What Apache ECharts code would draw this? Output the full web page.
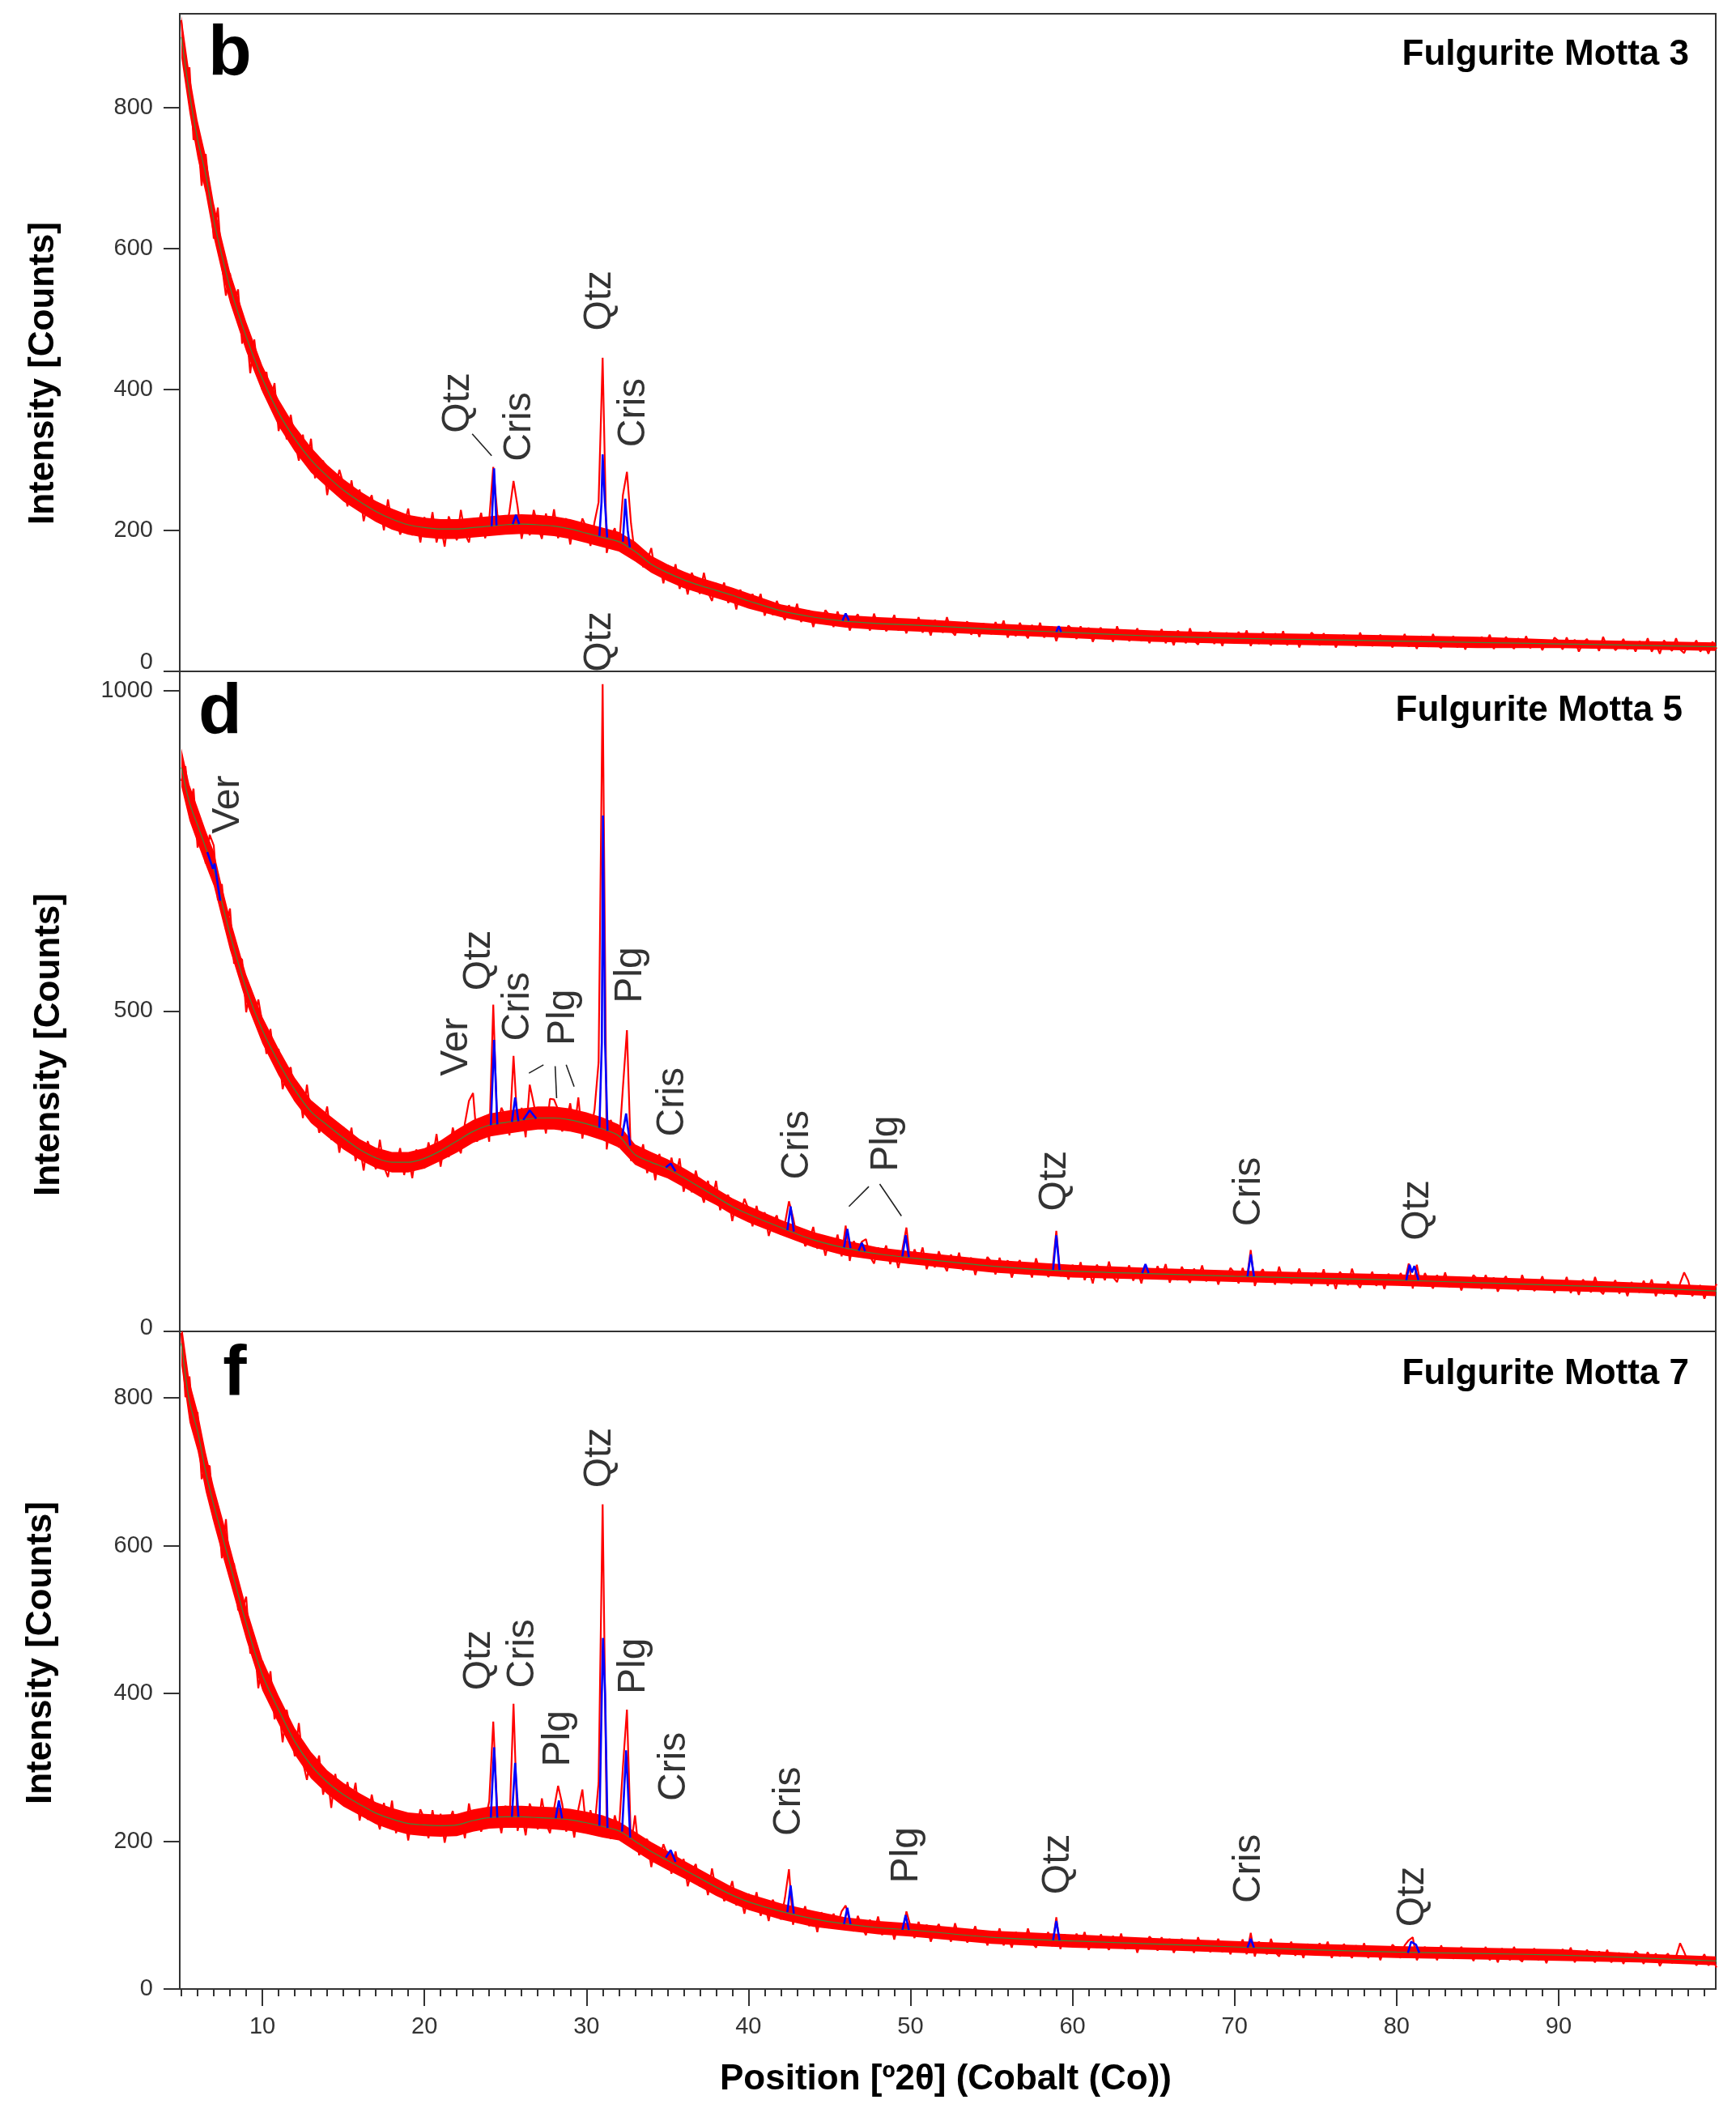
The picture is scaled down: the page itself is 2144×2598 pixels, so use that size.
<!DOCTYPE html>
<html>
<head>
<meta charset="utf-8">
<title>Fulgurite Motta XRD</title>
<script src="https://cdn.jsdelivr.net/npm/echarts@6/dist/echarts.min.js"></script>
<style>
  html, body { margin: 0; padding: 0; background: #fff; }
  #chart { width: 2144px; height: 2598px; }
</style>
</head>
<body>
<div id="chart"></div>
<script>
// measured counts, 5° start, 0.25° step
var obsStart = 5;
var obsStep = 0.25;

// Fulgurite Motta 3 (b)
var obsM3 = [
  924, 843, 857, 754, 765, 689, 734, 677, 614, 658, 576, 533, 565, 520, 542, 465, 490, 423, 471, 420,
  399, 425, 383, 409, 341, 367, 329, 364, 327, 299, 336, 294, 330, 274, 293, 299, 250, 284, 257, 286,
  266, 234, 271, 235, 258, 213, 238, 250, 214, 234, 200, 244, 209, 226, 194, 207, 231, 193, 214, 183,
  219, 192, 226, 183, 208, 177, 220, 205, 186, 229, 195, 183, 217, 201, 225, 189, 215, 290, 223, 201,
  195, 227, 270, 234, 188, 217, 193, 229, 206, 188, 224, 195, 230, 189, 208, 217, 180, 211, 192, 217,
  204, 178, 212, 240, 445, 168, 192, 203, 173, 250, 283, 210, 164, 177, 148, 156, 175, 140, 155, 125,
  151, 129, 152, 117, 135, 109, 140, 126, 110, 140, 112, 100, 125, 110, 126, 97, 115, 88, 116, 97,
  92, 110, 93, 110, 79, 95, 80, 100, 85, 73, 94, 75, 96, 70, 82, 86, 63, 83, 70, 87,
  79, 63, 85, 67, 82, 58, 73, 81, 63, 74, 58, 82, 64, 75, 57, 65, 80, 58, 70, 54,
  74, 59, 77, 55, 67, 51, 73, 65, 55, 77, 58, 51, 69, 60, 71, 52, 66, 49, 68, 57,
  53, 70, 56, 72, 48, 62, 50, 69, 56, 47, 66, 51, 69, 48, 58, 63, 43, 61, 51, 65,
  59, 46, 64, 49, 62, 42, 55, 62, 46, 57, 42, 64, 48, 57, 43, 49, 61, 43, 54, 40,
  57, 45, 60, 40, 52, 37, 58, 50, 40, 61, 44, 38, 54, 46, 57, 39, 52, 36, 55, 44,
  41, 56, 44, 58, 36, 50, 39, 56, 45, 37, 54, 41, 57, 37, 47, 52, 34, 50, 41, 55,
  49, 37, 54, 40, 51, 34, 46, 52, 39, 48, 35, 55, 40, 48, 36, 42, 52, 37, 46, 34,
  49, 38, 53, 35, 46, 32, 50, 44, 35, 53, 38, 33, 47, 39, 50, 34, 45, 31, 48, 38,
  36, 49, 39, 52, 32, 44, 34, 49, 39, 32, 47, 35, 50, 33, 41, 45, 30, 44, 36, 48,
  43, 31, 48, 34, 45, 28, 40, 46, 33, 42, 29, 49, 34, 42, 30, 36, 46, 31, 40, 28,
  43, 32, 47, 28, 39, 25, 44, 37, 29, 47, 31, 26, 40, 33, 44, 28, 39, 25, 42, 32
];

// Fulgurite Motta 5 (d)
var obsM5 = [
  859, 882, 816, 847, 755, 786, 730, 775, 758, 673, 698, 627, 660, 574, 586, 580, 498, 535, 488, 518,
  481, 433, 472, 419, 441, 378, 404, 412, 360, 381, 333, 385, 335, 352, 310, 323, 351, 299, 322, 279,
  319, 285, 318, 266, 291, 251, 297, 278, 253, 299, 257, 241, 278, 258, 286, 244, 275, 239, 284, 261,
  255, 295, 269, 308, 257, 296, 272, 318, 294, 278, 325, 360, 372, 296, 323, 336, 296, 510, 315, 349,
  336, 306, 430, 318, 349, 303, 385, 355, 318, 344, 309, 363, 362, 346, 312, 327, 356, 313, 365, 301,
  341, 310, 346, 420, 1010, 284, 330, 311, 287, 380, 470, 266, 290, 267, 292, 247, 275, 236, 277, 249,
  241, 271, 241, 270, 218, 245, 217, 251, 223, 201, 235, 203, 235, 189, 206, 213, 172, 203, 181, 207,
  191, 164, 196, 166, 186, 149, 171, 181, 151, 168, 203, 178, 146, 160, 133, 142, 163, 129, 146, 118,
  147, 126, 151, 117, 165, 110, 141, 128, 140, 144, 117, 106, 131, 117, 134, 105, 125, 99, 128, 162,
  106, 128, 110, 131, 97, 117, 100, 125, 107, 94, 120, 99, 123, 95, 108, 115, 88, 111, 98, 116,
  108, 89, 115, 94, 111, 84, 102, 111, 90, 104, 84, 114, 93, 104, 85, 94, 157, 86, 100, 81,
  104, 87, 108, 80, 97, 75, 104, 94, 80, 109, 85, 77, 99, 87, 103, 79, 96, 75, 101, 86,
  82, 102, 86, 105, 76, 94, 80, 101, 87, 76, 98, 81, 103, 78, 90, 95, 73, 94, 82, 99,
  91, 75, 99, 80, 127, 71, 88, 97, 77, 91, 73, 101, 80, 91, 74, 82, 98, 76, 89, 71,
  92, 76, 97, 71, 87, 66, 93, 84, 72, 98, 77, 68, 89, 78, 93, 71, 87, 66, 90, 76,
  73, 91, 77, 106, 67, 104, 71, 91, 78, 67, 88, 72, 92, 69, 79, 85, 64, 83, 73, 88,
  81, 66, 88, 71, 84, 62, 77, 86, 68, 79, 63, 88, 70, 81, 63, 71, 86, 65, 77, 60,
  80, 66, 85, 60, 75, 57, 81, 72, 61, 85, 65, 58, 76, 67, 80, 59, 74, 55, 77, 64,
  61, 79, 64, 81, 55, 71, 58, 78, 65, 54, 75, 92, 79, 55, 66, 72, 51, 69, 59, 74
];

// Fulgurite Motta 7 (f)
var obsM7 = [
  888, 801, 829, 760, 781, 690, 707, 708, 635, 650, 583, 636, 565, 576, 513, 512, 531, 454, 470, 407,
  444, 398, 430, 365, 386, 334, 378, 349, 315, 360, 307, 283, 319, 291, 316, 263, 292, 245, 291, 259,
  250, 280, 251, 279, 228, 256, 229, 263, 236, 216, 252, 221, 255, 211, 231, 239, 201, 234, 215, 243,
  230, 204, 242, 212, 237, 198, 225, 241, 209, 232, 204, 251, 222, 241, 213, 228, 254, 362, 239, 211,
  248, 222, 386, 214, 239, 208, 251, 235, 216, 258, 224, 211, 244, 275, 251, 213, 238, 205, 243, 270,
  213, 242, 218, 279, 656, 226, 203, 235, 212, 300, 378, 195, 235, 181, 197, 203, 165, 193, 173, 196,
  181, 156, 186, 157, 176, 139, 160, 169, 139, 155, 127, 163, 133, 145, 119, 127, 146, 113, 128, 102,
  129, 108, 131, 99, 116, 92, 121, 109, 94, 123, 162, 87, 109, 96, 112, 85, 102, 77, 104, 87,
  83, 102, 87, 105, 113, 92, 78, 99, 84, 73, 94, 77, 98, 73, 85, 90, 67, 88, 75, 105,
  85, 69, 91, 73, 87, 64, 79, 88, 69, 81, 64, 89, 70, 81, 63, 71, 85, 64, 75, 59,
  78, 64, 82, 59, 72, 56, 77, 70, 60, 82, 63, 56, 74, 65, 77, 58, 97, 54, 74, 63,
  58, 75, 62, 77, 53, 68, 56, 74, 62, 53, 72, 56, 75, 54, 64, 69, 49, 67, 57, 71,
  65, 52, 70, 55, 68, 49, 61, 68, 53, 64, 49, 70, 55, 64, 50, 56, 68, 50, 61, 47,
  64, 51, 67, 47, 76, 44, 64, 57, 47, 68, 50, 44, 60, 52, 64, 45, 58, 42, 61, 50,
  47, 62, 49, 64, 42, 56, 44, 61, 50, 42, 59, 45, 62, 42, 52, 57, 39, 55, 46, 60,
  54, 42, 59, 66, 70, 39, 51, 57, 44, 53, 39, 59, 45, 53, 41, 47, 57, 42, 50, 38,
  54, 42, 57, 39, 50, 36, 55, 48, 39, 57, 42, 37, 51, 44, 55, 39, 49, 35, 52, 42,
  41, 54, 43, 56, 36, 49, 39, 53, 43, 36, 51, 39, 53, 36, 45, 49, 34, 48, 39, 51,
  46, 34, 50, 37, 48, 31, 42, 48, 35, 44, 62, 50, 36, 44, 32, 38, 47, 32, 41, 29
];

// background (green)
var bgPos = [5, 5.5, 6, 6.5, 7, 7.5, 8, 9, 10, 11, 12, 13, 14, 15, 16, 17, 18, 19, 20, 21, 22, 23, 24, 25, 26, 27, 28, 29, 30,
  31, 32, 33, 34, 35, 36, 37, 38, 39, 40, 42, 44, 46, 48, 50, 55, 60, 65, 70, 75, 80, 85, 90, 95, 99.75];
var bgM3 = [900, 820, 755, 705, 640, 590, 545, 475, 415, 367, 330, 300, 277, 257, 241, 227, 216, 208, 204, 202, 202, 204, 206, 208, 209, 208, 206, 202, 196,
  190, 184, 170, 152, 140, 130, 122, 115, 108, 100, 86, 77, 71, 68, 66, 60, 55, 50, 47, 45, 43, 41, 39, 37, 35];
var bgM5 = [880, 825, 790, 755, 722, 670, 620, 535, 470, 420, 377, 343, 322, 302, 284, 271, 264, 264, 270, 282, 297, 312, 322, 326, 330, 333, 333, 330, 324,
  316, 305, 276, 264, 254, 240, 225, 210, 195, 183, 162, 143, 130, 121, 115, 102, 94, 90, 86, 83, 80, 76, 72, 68, 63];
var bgM7 = [874, 795, 755, 700, 655, 615, 575, 495, 425, 378, 335, 303, 280, 263, 250, 238, 230, 224, 222, 221, 222, 228, 232, 233, 233, 232, 231, 229, 225,
  220, 214, 200, 186, 174, 162, 150, 138, 127, 118, 105, 95, 88, 83, 80, 70, 65, 61, 57, 53, 50, 48, 46, 42, 38];

// half thickness of the solid core of the noise band (counts), at bgPos
var bandM3 = [30, 28, 27, 27, 25, 24, 22, 21, 19, 19, 18, 18, 16, 16, 15, 15, 15, 14, 14, 14, 14, 14, 14, 14, 14, 14, 14, 14, 14,
  14, 14, 14, 12, 12, 12, 11, 11, 11, 11, 9, 9, 9, 9, 9, 8, 8, 8, 8, 8, 8, 8, 6, 6, 6];
var bandM5 = [30, 28, 28, 27, 27, 25, 25, 22, 21, 21, 19, 18, 18, 18, 16, 16, 16, 16, 16, 16, 18, 18, 18, 18, 18, 18, 18, 18, 18,
  18, 18, 16, 16, 15, 15, 15, 13, 13, 13, 12, 12, 12, 10, 10, 10, 10, 9, 9, 9, 9, 9, 9, 8, 8];
var bandM7 = [30, 28, 27, 27, 25, 25, 24, 22, 21, 19, 18, 18, 16, 16, 15, 15, 15, 15, 15, 15, 15, 15, 15, 15, 15, 15, 15, 15, 15,
  15, 13, 13, 13, 13, 12, 12, 12, 11, 11, 11, 11, 9, 9, 9, 9, 9, 8, 8, 8, 8, 8, 8, 6, 6];

// calculated peak profiles (blue)
var calcM3 = [
  [[24.15, 206], [24.3, 288], [24.45, 207]],
  [[25.45, 209], [25.65, 222], [25.85, 209]],
  [[30.8, 192], [30.93, 240], [31.0, 308], [31.07, 308], [31.14, 240], [31.28, 190]],
  [[32.25, 184], [32.4, 245], [32.55, 200], [32.68, 176]],
  [[45.8, 72], [46.0, 82], [46.2, 72]],
  [[59.0, 56], [59.15, 64], [59.3, 56]]
];
var calcM5 = [
  [[6.6, 748], [6.95, 722], [7.05, 730], [7.4, 672]],
  [[24.1, 322], [24.3, 455], [24.5, 323]],
  [[25.4, 327], [25.6, 365], [25.8, 328]],
  [[26.1, 330], [26.5, 345], [26.9, 332]],
  [[30.8, 318], [30.95, 450], [31.02, 805], [31.08, 805], [31.15, 450], [31.3, 313]],
  [[32.2, 305], [32.45, 340], [32.7, 290]],
  [[34.9, 256], [35.2, 262], [35.5, 250]],
  [[42.4, 158], [42.6, 195], [42.8, 156]],
  [[45.9, 131], [46.1, 160], [46.3, 130]],
  [[46.8, 126], [47.0, 138], [47.2, 125]],
  [[49.5, 117], [49.7, 150], [49.9, 116]],
  [[58.8, 96], [59.0, 150], [59.2, 96]],
  [[64.3, 91], [64.5, 105], [64.7, 91]],
  [[70.8, 86], [71.0, 120], [71.2, 86]],
  [[80.6, 80], [80.8, 104], [80.95, 92], [81.1, 102], [81.35, 80]]
];
var calcM7 = [
  [[24.1, 232], [24.3, 327], [24.5, 232]],
  [[25.4, 233], [25.6, 306], [25.8, 233]],
  [[28.1, 231], [28.3, 255], [28.5, 231]],
  [[30.8, 221], [30.95, 400], [31.02, 475], [31.08, 475], [31.15, 400], [31.3, 218]],
  [[32.2, 213], [32.45, 323], [32.7, 205]],
  [[34.9, 178], [35.2, 188], [35.5, 172]],
  [[42.4, 104], [42.6, 140], [42.8, 102]],
  [[45.9, 88], [46.1, 110], [46.3, 88]],
  [[49.5, 80], [49.7, 100], [49.9, 80]],
  [[58.8, 66], [59.0, 92], [59.2, 66]],
  [[70.8, 56], [71.0, 68], [71.2, 56]],
  [[80.7, 49], [80.9, 64], [81.2, 60], [81.4, 49]]
];

// phase labels [text, 2θ, counts]
var labM3 = [['Qtz', 22.1, 381], ['Cris', 25.9, 347], ['Qtz', 30.8, 526], ['Cris', 32.9, 367], ['Qtz', 30.8, 42]];
var labM5 = [['Ver', 7.9, 822], ['Ver', 22.0, 444], ['Qtz', 23.4, 579], ['Cris', 25.8, 507], ['Plg', 28.6, 490],
  ['Plg', 32.7, 556], ['Cris', 35.3, 358], ['Cris', 43.0, 291], ['Plg', 48.5, 293], ['Qtz', 58.9, 235],
  ['Cris', 70.9, 218], ['Qtz', 81.3, 189]];
var labM7 = [['Qtz', 23.4, 445], ['Cris', 26.1, 454], ['Plg', 28.3, 339], ['Qtz', 30.8, 719], ['Plg', 32.9, 437],
  ['Cris', 35.4, 301], ['Cris', 42.5, 254], ['Plg', 49.75, 181], ['Qtz', 59.1, 169], ['Cris', 70.9, 163],
  ['Qtz', 81.0, 125]];

// leader lines
var leadM3 = [[[22.95, 337], [24.15, 306]]];
var leadM5 = [
  [[26.45, 403], [27.35, 416]],
  [[28.07, 414], [28.16, 364]],
  [[28.75, 416], [29.24, 382]],
  [[47.43, 226], [46.2, 195]],
  [[48.1, 230], [49.44, 180]]
];
var leadM7 = [];

var sampleNames = ['Fulgurite Motta 3', 'Fulgurite Motta 5', 'Fulgurite Motta 7'];
var panelLetters = ['b', 'd', 'f'];
var yMax = [933, 1030, 890];
var yTicks = [[0, 200, 400, 600, 800], [0, 500, 1000], [0, 200, 400, 600, 800]];
var xMajor = [10, 20, 30, 40, 50, 60, 70, 80, 90];
var xMinor = [];
for (var t = 5; t <= 99; t++) xMinor.push(t);

var obs = [obsM3, obsM5, obsM7];
var bgs = [bgM3, bgM5, bgM7];
var bands = [bandM3, bandM5, bandM7];
var calcs = [calcM3, calcM5, calcM7];
var labs = [labM3, labM5, labM7];
var leads = [leadM3, leadM5, leadM7];

var FONT = '"Liberation Sans", Arial, sans-serif';
var gridTop = [17, 829, 1644];
var gridH = [812, 815, 812];

function toPairs(vals) {
  return vals.map(function (v, i) { return [obsStart + i * obsStep, v]; });
}
// segments -> one polyline with gaps
function joinSegs(segs) {
  var out = [];
  segs.forEach(function (s, k) {
    if (k) out.push([s[0][0], null]);
    out.push.apply(out, s);
  });
  return out;
}
// filled core of the noise band around the background
function bandRenderer(pp) {
  return function (params, api) {
    var up = [], lo = [];
    bgPos.forEach(function (x, k) {
      up.push(api.coord([x, bgs[pp][k] + bands[pp][k]]));
      lo.push(api.coord([x, bgs[pp][k] - bands[pp][k]]));
    });
    return {
      type: 'polygon',
      shape: { points: up.concat(lo.reverse()) },
      style: { fill: '#ff0000' }
    };
  };
}

var myChart = echarts.init(document.getElementById('chart'), null, { renderer: 'canvas' });

var grids = [], xAxes = [], yAxes = [], series = [];
for (var p = 0; p < 3; p++) {
  grids.push({
    left: 222, right: 25, top: gridTop[p], height: gridH[p],
    show: true, borderColor: '#333', borderWidth: 2, backgroundColor: 'transparent'
  });
  var bottom = p === 2;
  xAxes.push({
    type: 'value', gridIndex: p, position: 'bottom', min: 4.9, max: 99.7,
    axisLine: { show: bottom, lineStyle: { color: '#333', width: 2 } },
    axisTick: { show: bottom, customValues: xMajor, length: 21, lineStyle: { color: '#333', width: 2 } },
    axisLabel: { show: bottom, customValues: xMajor, margin: 32, fontSize: 29, color: '#333', fontFamily: FONT },
    splitLine: { show: false }
  });
  (function (idx) {
    yAxes.push({
      type: 'value', gridIndex: idx, min: 0, max: yMax[idx],
      axisLine: { show: true, lineStyle: { color: '#333', width: 2 } },
      axisTick: { show: true, customValues: yTicks[idx], length: 20, lineStyle: { color: '#333', width: 2 } },
      axisLabel: {
        customValues: yTicks[idx], margin: 33, fontSize: 29, color: '#333', fontFamily: FONT,
        formatter: function (v) { return (v === 0 && idx < 2) ? '{lift|0}' : String(v); },
        rich: { lift: { fontSize: 29, color: '#333', fontFamily: FONT, padding: [0, 0, idx === 0 ? 22 : 8, 0] } }
      },
      splitLine: { show: false }
    });
  })(p);

  series.push({
    type: 'custom', xAxisIndex: p, yAxisIndex: p, silent: true, clip: true,
    data: [[bgPos[0], bgs[p][0]]], renderItem: bandRenderer(p), z: 1, animation: false
  });
  series.push({
    type: 'line', xAxisIndex: p, yAxisIndex: p, data: toPairs(obs[p]),
    symbol: 'none', lineStyle: { color: '#ff0000', width: 2.2 }, z: 2, animation: false
  });
  series.push({
    type: 'line', xAxisIndex: p, yAxisIndex: p, smooth: 0.3,
    data: bgPos.map(function (x, k) { return [x, bgs[p][k]]; }),
    symbol: 'none', lineStyle: { color: '#3c8c3c', width: 1.2 }, z: 3, animation: false
  });
  series.push({
    type: 'line', xAxisIndex: p, yAxisIndex: p, data: joinSegs(calcs[p]),
    symbol: 'none', lineStyle: { color: '#0000ff', width: 2.6 }, z: 4, animation: false
  });
  if (leads[p].length) {
    series.push({
      type: 'line', xAxisIndex: p, yAxisIndex: p, data: joinSegs(leads[p]),
      symbol: 'none', lineStyle: { color: '#222', width: 1.6 }, z: 5, animation: false
    });
  }
  series.push({
    type: 'scatter', xAxisIndex: p, yAxisIndex: p, symbolSize: 1, silent: true,
    itemStyle: { color: 'rgba(0,0,0,0)' },
    data: labs[p].map(function (l) { return { name: l[0], value: [l[1], l[2]] }; }),
    label: {
      show: true, position: 'inside', formatter: '{b}', rotate: 90,
      fontSize: 48, color: '#000', fontFamily: FONT
    },
    z: 6, animation: false
  });
}

var titleBold = { fontSize: 44, fontWeight: 'bold', fontFamily: FONT, fill: '#000' };
function txt(text, x, y, extra) {
  var st = Object.assign({ text: text, align: 'center', verticalAlign: 'middle' }, titleBold, extra && extra.style);
  return Object.assign({ type: 'text', x: x, y: y, style: st, z: 10 }, extra && extra.el);
}

var graphics = [
  txt('Intensity [Counts]', 54, 461, { el: { rotation: Math.PI / 2 } }),
  txt('Intensity [Counts]', 61, 1290, { el: { rotation: Math.PI / 2 } }),
  txt('Intensity [Counts]', 51, 2041, { el: { rotation: Math.PI / 2 } }),
  txt(panelLetters[0], 284, 68, { style: { fontSize: 88 } }),
  txt(panelLetters[1], 272, 881, { style: { fontSize: 88 } }),
  txt(panelLetters[2], 290, 1698, { style: { fontSize: 88 } }),
  txt(sampleNames[0], 2086, 68, { style: { align: 'right' } }),
  txt(sampleNames[1], 2078, 878, { style: { align: 'right' } }),
  txt(sampleNames[2], 2086, 1697, { style: { align: 'right' } }),
  txt('Position [º2θ] (Cobalt (Co))', 1168, 2568)
];

var option = {
  backgroundColor: '#fff',
  animation: false,
  grid: grids,
  xAxis: xAxes.concat([{
    // minor ticks on the bottom axis
    type: 'value', gridIndex: 2, position: 'bottom', min: 4.9, max: 99.7,
    axisLine: { show: false },
    axisTick: { show: true, customValues: xMinor, length: 9, lineStyle: { color: '#333', width: 2 } },
    axisLabel: { show: false },
    splitLine: { show: false }
  }]),
  yAxis: yAxes,
  series: series,
  graphic: graphics
};
myChart.setOption(option);
</script>
</body>
</html>
